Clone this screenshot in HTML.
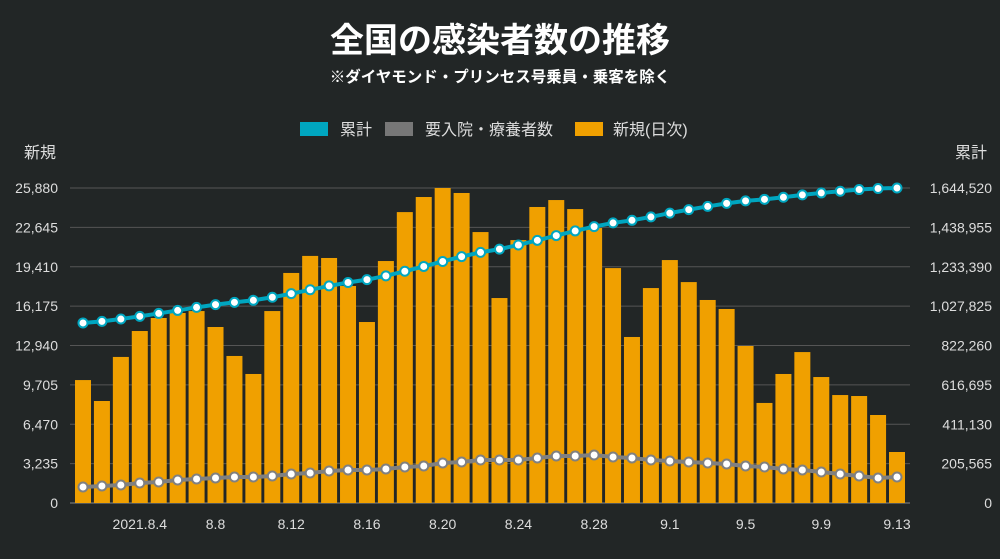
<!DOCTYPE html>
<html><head><meta charset="utf-8"><style>
body{margin:0;background:#222626;}
svg text{font-family:"Liberation Sans","Noto Sans CJK JP",sans-serif;}
</style></head><body>
<svg id="chart" width="1000" height="554" xmlns="http://www.w3.org/2000/svg">
<rect width="1000" height="554" fill="#222626"/>
<text x="500" y="52" text-anchor="middle" fill="#fff" font-size="34" font-weight="bold">全国の感染者数の推移</text>
<text x="500" y="82" text-anchor="middle" fill="#fff" font-size="15.5" font-weight="bold">※ダイヤモンド・プリンセス号乗員・乗客を除く</text>
<g font-size="16" fill="#ddd">
<rect x="300" y="122" width="28" height="14" fill="#00a6c0"/>
<text x="340" y="135" fill="#ddd">累計</text>
<rect x="385" y="122" width="28" height="14" fill="#777"/>
<text x="425" y="135" fill="#ddd">要入院・療養者数</text>
<rect x="575" y="122" width="28" height="14" fill="#f0a000"/>
<text x="613" y="135" fill="#ddd">新規(日次)</text>
</g>
<text x="24" y="158" fill="#ddd" font-size="16">新規</text>
<text x="955" y="158" fill="#ddd" font-size="16">累計</text>
<g id="grid"></g><g id="bars"></g><g id="lines"></g><g id="axes"></g>
</svg>
<script>
const dates=["8.1","8.2","8.3","8.4","8.5","8.6","8.7","8.8","8.9","8.10","8.11","8.12","8.13","8.14","8.15","8.16","8.17","8.18","8.19","8.20","8.21","8.22","8.23","8.24","8.25","8.26","8.27","8.28","8.29","8.30","8.31","9.1","9.2","9.3","9.4","9.5","9.6","9.7","9.8","9.9","9.10","9.11","9.12","9.13"];
const newCases=[10100,8380,12000,14130,15200,15610,15770,14460,12080,10600,15770,18900,20300,20130,17830,14870,19880,23900,25140,25880,25470,22260,16840,21600,24320,24890,24150,22590,19300,13640,17660,19960,18150,16680,15940,12900,8220,10600,12400,10350,8870,8790,7230,4190];
const cumulative=[940000,948380,960380,974510,989710,1005320,1021090,1035550,1047630,1058230,1074000,1092900,1113200,1133330,1151160,1166030,1185910,1209810,1234950,1260830,1286300,1308560,1325400,1347000,1371320,1396210,1420360,1442950,1462250,1475890,1493550,1513510,1531660,1548340,1564280,1577180,1585400,1596000,1608400,1618750,1627620,1636410,1642000,1644520];
const hospitalized=[83500,88700,94000,104400,109600,120100,125300,130500,135700,135700,141000,151400,156600,167100,172300,172300,177500,187900,193200,208800,214000,224500,224500,224500,234900,245400,245400,250600,240100,234900,224500,219300,214000,208800,203600,193200,187900,177500,172300,161800,151400,141000,130500,135700];
const leftTicks=["0","3,235","6,470","9,705","12,940","16,175","19,410","22,645","25,880"];
const rightTicks=["0","205,565","411,130","616,695","822,260","1,027,825","1,233,390","1,438,955","1,644,520"];
const leftMax=25880, rightMax=1644520;
const NS="http://www.w3.org/2000/svg";
const x0=83,x1=897,yb=503,yt=188;
const xS=i=>x0+i*(x1-x0)/(dates.length-1);
const yL=v=>yb-v/leftMax*(yb-yt);
const yR=v=>yb-v/rightMax*(yb-yt);
function mk(tag,at,parent){const e=document.createElementNS(NS,tag);for(const k in at)e.setAttribute(k,at[k]);document.getElementById(parent).appendChild(e);return e;}
for(let k=0;k<leftTicks.length;k++){
 const y=yb-k*(yb-yt)/(leftTicks.length-1);
 const g=mk("line",{x1:70,x2:910,y1:y,y2:y,stroke:k==0?"#888":"#555","stroke-width":1},"grid");
 
 
 const t=mk("text",{x:58,y:y+5,"text-anchor":"end",fill:"#ddd","font-size":14},"axes");t.textContent=leftTicks[k];
 
 
 const r=mk("text",{x:992,y:y+5,"text-anchor":"end",fill:"#ddd","font-size":14},"axes");r.textContent=rightTicks[k];
 
 
}
newCases.forEach((v,i)=>{
 const b=mk("rect",{x:xS(i)-8,y:yL(v),width:16,height:yb-yL(v),fill:"#f0a000"},"bars");
 
 
});
dates.forEach((d,i)=>{
 if(i%4!==3)return;
 const t=mk("text",{x:xS(i),y:529,"text-anchor":"middle",fill:"#ddd","font-size":14},"axes");
 t.textContent=(i===3?"2021.":"")+d;
 
 
});
function series(arr,color,name){
 const p=mk("polyline",{points:arr.map((v,i)=>xS(i)+","+yR(v)).join(" "),fill:"none",stroke:color,"stroke-width":4},"lines");
 
 
 arr.forEach((v,i)=>{
  const c=mk("circle",{cx:xS(i),cy:yR(v),r:4.5,fill:"#fff",stroke:color,"stroke-width":2},"lines");
  
  
 });
}
series(hospitalized,"#808080","hospitalized");
series(cumulative,"#00a6c0","cumulative");
</script>
</body></html>
